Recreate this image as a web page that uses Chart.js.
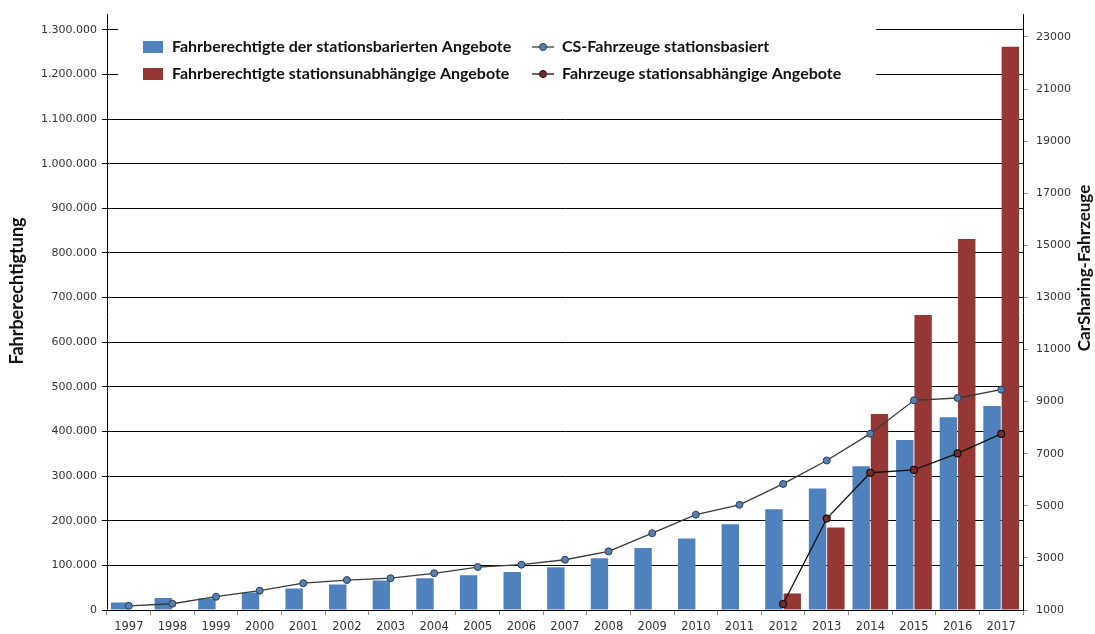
<!DOCTYPE html>
<html lang="de">
<head>
<meta charset="utf-8">
<title>CarSharing in Deutschland</title>
<script src="https://cdn.jsdelivr.net/npm/chart.js@4.4.1/dist/chart.umd.min.js"></script>
<style>
  html, body { margin: 0; padding: 0; background: #fff; }
</style>
</head>
<body>
<canvas id="chart" width="1095" height="634"></canvas>
<script>
// Daten
const jahre = ['1997', '1998', '1999', '2000', '2001', '2002', '2003', '2004', '2005', '2006', '2007',
               '2008', '2009', '2010', '2011', '2012', '2013', '2014', '2015', '2016', '2017'];

const fahrberechtigteStation = [17000, 27000, 26000, 39000, 48000, 57000, 66000, 71000, 78000, 85000, 96000,
                                116000, 139000, 160000, 192000, 226000, 272000, 322000, 381000, 432000, 457000];

const fahrberechtigteFrei = [null, null, null, null, null, null, null, null, null, null, null,
                             null, null, null, null, 37000, 185000, 439000, 661000, 831000, 1262000];

const fahrzeugeStation = [1160, 1240, 1510, 1740, 2030, 2150, 2220, 2410, 2650, 2740, 2930,
                          3250, 3950, 4660, 5040, 5840, 6740, 7770, 9050, 9140, 9460];

const fahrzeugeFrei = [null, null, null, null, null, null, null, null, null, null, null,
                       null, null, null, null, 1230, 4510, 6270, 6380, 7010, 7760];

const ticksLinks = [0, 100000, 200000, 300000, 400000, 500000, 600000, 700000,
                    800000, 900000, 1000000, 1100000, 1200000, 1300000];
const ticksRechts = [1000, 3000, 5000, 7000, 9000, 11000, 13000, 15000, 17000, 19000, 21000, 23000];

// Tausenderpunkt wie im Original
function formatDe(v) {
    return String(v).replace(/\B(?=(\d{3})+(?!\d))/g, '.');
}

// Legende liegt im Diagramm, mit weissem Hintergrund
const legendeImDiagramm = {
    id: 'legendeImDiagramm',
    afterDraw(chart) {
        const ctx = chart.ctx;
        const ds = chart.data.datasets;
        ctx.save();
        ctx.fillStyle = '#ffffff';
        ctx.fillRect(118, 28, 758, 70);

        ctx.font = 'bold 16px Lato';
        ctx.textBaseline = 'middle';
        ctx.fillStyle = '#111';

        // Balken (linke Spalte)
        [[2, 47], [3, 74]].forEach(([i, y]) => {
            ctx.fillStyle = ds[i].backgroundColor;
            ctx.fillRect(143, y - 6, 20, 12);
            ctx.fillStyle = '#111';
            ctx.fillText(ds[i].label, 172, y);
        });

        // Linien (rechte Spalte)
        [[0, 47], [1, 74]].forEach(([i, y]) => {
            ctx.strokeStyle = ds[i].borderColor;
            ctx.lineWidth = 1.3;
            ctx.beginPath();
            ctx.moveTo(532, y);
            ctx.lineTo(554, y);
            ctx.stroke();
            ctx.beginPath();
            ctx.arc(543, y, 3.5, 0, Math.PI * 2);
            ctx.fillStyle = ds[i].pointBackgroundColor;
            ctx.fill();
            ctx.strokeStyle = ds[i].pointBorderColor;
            ctx.lineWidth = 1;
            ctx.stroke();
            ctx.fillStyle = '#111';
            ctx.fillText(ds[i].label, 562, y);
        });
        ctx.restore();
    }
};

// Achsentitel (beide von unten nach oben gelesen)
function titelZeichnen(ctx, text, x, y, size) {
    ctx.save();
    ctx.font = 'bold ' + size + 'px Lato';
    ctx.fillStyle = '#111';
    ctx.textAlign = 'center';
    ctx.textBaseline = 'middle';
    ctx.translate(x, y);
    ctx.rotate(-Math.PI / 2);
    ctx.fillText(text, 0, 0);
    ctx.restore();
}

const achsenTitel = {
    id: 'achsenTitel',
    afterDraw(chart) {
        titelZeichnen(chart.ctx, 'Fahrberechtigtung', 17, 291, 18);
        titelZeichnen(chart.ctx, 'CarSharing-Fahrzeuge', 1085, 268, 17);
    }
};

const ctx = document.getElementById('chart').getContext('2d');
new Chart(ctx, {
    type: 'bar',
    data: {
        labels: jahre,
        datasets: [
            {
                type: 'line',
                label: 'CS-Fahrzeuge stationsbasiert',
                data: fahrzeugeStation,
                yAxisID: 'y1',
                borderColor: '#3a3a3a',
                borderWidth: 1.3,
                pointRadius: 3.5,
                pointBackgroundColor: '#5b7fad',
                pointBorderColor: '#263d5c',
                pointBorderWidth: 1,
                tension: 0,
                order: 1
            },
            {
                type: 'line',
                label: 'Fahrzeuge stationsabhängige Angebote',
                data: fahrzeugeFrei,
                yAxisID: 'y1',
                borderColor: '#111111',
                borderWidth: 1.3,
                pointRadius: 3.5,
                pointBackgroundColor: '#7a2b2b',
                pointBorderColor: '#111111',
                pointBorderWidth: 1.2,
                tension: 0,
                order: 1
            },
            {
                label: 'Fahrberechtigte der stationsbarierten Angebote',
                data: fahrberechtigteStation,
                yAxisID: 'y',
                backgroundColor: '#4f81bd',
                categoryPercentage: 0.84,
                barPercentage: 0.95,
                order: 2
            },
            {
                label: 'Fahrberechtigte stationsunabhängige Angebote',
                data: fahrberechtigteFrei,
                yAxisID: 'y',
                backgroundColor: '#953735',
                categoryPercentage: 0.84,
                barPercentage: 0.95,
                order: 2
            }
        ]
    },
    options: {
        responsive: false,
        animation: false,
        layout: { padding: { top: 8 } },
        plugins: {
            legend: { display: false },
            tooltip: { enabled: false }
        },
        scales: {
            x: {
                grid: { drawOnChartArea: false, color: '#888', tickLength: 5 },
                border: { color: '#000' },
                ticks: { color: '#333', font: { family: 'DejaVu Sans', size: 11.5 }, padding: 5, maxRotation: 0 },
                afterFit(scale) { scale.height = 24; }
            },
            y: {
                position: 'left',
                min: 0,
                max: 1334000,
                afterBuildTicks(scale) { scale.ticks = ticksLinks.map(v => ({ value: v })); },
                grid: { color: '#000', lineWidth: 1, tickLength: 5 },
                border: { color: '#000' },
                ticks: {
                    color: '#333',
                    font: { family: 'DejaVu Sans', size: 11 },
                    padding: 5,
                    callback: v => formatDe(v)
                },
                afterFit(scale) { scale.width = 107; }
            },
            y1: {
                position: 'right',
                min: 1000,
                max: 23860,
                afterBuildTicks(scale) { scale.ticks = ticksRechts.map(v => ({ value: v })); },
                grid: { drawOnChartArea: false, color: '#999', tickLength: 5 },
                border: { color: '#000' },
                ticks: {
                    color: '#333',
                    font: { family: 'DejaVu Sans', size: 11 },
                    padding: 8,
                    callback: v => String(v)
                },
                afterFit(scale) { scale.width = 72; }
            }
        }
    },
    plugins: [legendeImDiagramm, achsenTitel]
});
</script>
</body>
</html>
